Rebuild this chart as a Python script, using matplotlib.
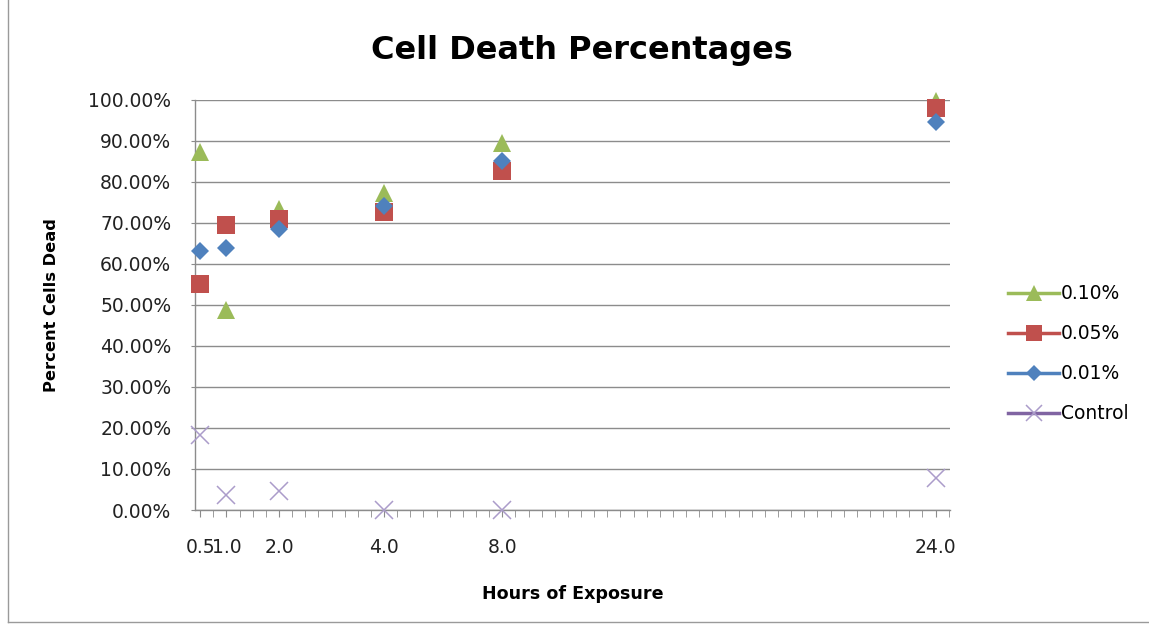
import matplotlib
matplotlib.use('Agg')
import matplotlib.pyplot as plt
from matplotlib.lines import Line2D
from matplotlib.ticker import FuncFormatter

# hours of exposure and where they sit on the (category-like) x axis
hours = ['0.5', '1.0', '2.0', '4.0', '8.0', '24.0']
x_pos = [0, 2, 6, 14, 23, 56]
n_ticks = 58

# percent cells dead
pct_010 = [87.4, 48.8, 73.4, 77.2, 89.4, 99.8]
pct_005 = [55.1, 69.5, 70.9, 72.8, 82.7, 98.0]
pct_001 = [63.2, 63.8, 68.5, 74.2, 85.0, 94.7]
control = [18.3, 3.7, 4.7, 0.0, 0.0, 7.8]

series = [
    ('0.10%', pct_010, '^', 13, '#9bbb59', '#9bbb59'),
    ('0.05%', pct_005, 's', 13, '#c0504d', '#c0504d'),
    ('0.01%', pct_001, 'D', 9, '#4f81bd', '#4f81bd'),
    ('Control', control, 'x', 13, '#ab9cca', '#8064a2'),
]

fig = plt.figure(figsize=(11.49, 6.26), dpi=100)
ax = fig.add_axes([0.1697, 0.1853, 0.6571, 0.655])

handles = []
for name, vals, mk, ms, mcol, lcol in series:
    if mk == 'x':
        ax.plot(x_pos, vals, linestyle='none', marker=mk, markersize=ms,
                color=mcol, markeredgewidth=1.1, clip_on=False, zorder=3)
        h = Line2D([], [], color=lcol, lw=2.5, marker=mk, markersize=11,
                   markeredgecolor=mcol, markeredgewidth=1.1)
    else:
        ax.plot(x_pos, vals, linestyle='none', marker=mk, markersize=ms,
                color=mcol, markeredgewidth=0, clip_on=False, zorder=3)
        h = Line2D([], [], color=lcol, lw=2.5, marker=mk,
                   markersize=ms * 0.85, markeredgewidth=0)
    handles.append(h)

ax.set_ylim(0, 100)
ax.set_yticks(range(0, 101, 10))
ax.yaxis.set_major_formatter(FuncFormatter(lambda v, p: '%.2f%%' % v))
ax.set_xlim(-0.4, 57.1)
ax.set_xticks(x_pos)
ax.set_xticklabels(hours)
ax.set_xticks(range(n_ticks), minor=True)

ax.grid(axis='y', color='#8c8c8c', lw=1)
ax.set_axisbelow(True)
for s in ['top', 'right']:
    ax.spines[s].set_visible(False)
for s in ['left', 'bottom']:
    ax.spines[s].set_color('#8c8c8c')
    ax.spines[s].set_linewidth(1)

ax.tick_params(axis='y', length=3, color='#8c8c8c', labelsize=13.5,
               labelcolor='#222222', pad=14)
ax.tick_params(axis='x', which='both', length=5, color='#8c8c8c',
               labelsize=13.5, labelcolor='#222222', pad=15)

fig.text(582 / 1149, 1 - 50 / 626, 'Cell Death Percentages', family='DejaVu Sans',
         fontweight='bold', fontsize=23, ha='center', va='center')
ax.set_xlabel('Hours of Exposure', family='DejaVu Sans', fontweight='bold',
              fontsize=12.6, labelpad=20)
ax.set_ylabel('Percent Cells Dead', family='DejaVu Sans', fontweight='bold',
              fontsize=11.7, labelpad=21)

fig.legend(handles, [s[0] for s in series], loc='center left',
           bbox_to_anchor=(0.863, 0.435), frameon=False, fontsize=13.5,
           handlelength=2.7, handletextpad=0.1, labelspacing=1.12)

# chart border
fig.add_artist(Line2D([8 / 1149, 8 / 1149], [4 / 626, 1], color='#9a9a9a', lw=1))
fig.add_artist(Line2D([8 / 1149, 1], [4 / 626, 4 / 626], color='#9a9a9a', lw=1))

plt.savefig('out.png', dpi=100)
